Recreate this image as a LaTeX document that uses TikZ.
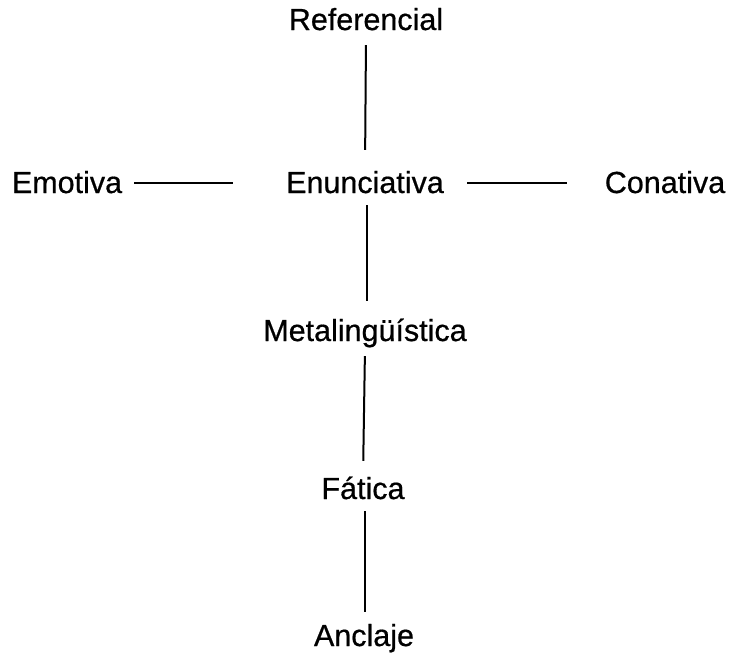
\documentclass[tikz,border=0pt]{standalone}
\usepackage{fontspec}
\setmainfont{Liberation Sans}
\newfontfamily\etiqueta[FakeBold=0.6]{Liberation Sans}
\begin{document}
\begin{tikzpicture}[x=1pt,y=-1pt,
    funcion/.style={inner sep=0pt,text height=22pt,text depth=7pt,font=\etiqueta\fontsize{30.5}{34}\selectfont},
    enlace/.style={line width=2pt}]
\useasboundingbox (0,0) rectangle (734,657);
\node[funcion] (referencial) at (366,22.5) {Referencial}; % arriba
\node[funcion] (enunciativa) at (365,185.5) {Enunciativa}; % centro
\node[funcion] (emotiva) at (67,185.5) {Emotiva};
\node[funcion] (conativa) at (665,185.5) {Conativa};
\node[funcion] (metalinguistica) at (365,333.5) {Metaling\"u\'istica};
\node[funcion] (fatica) at (363,491.5) {F\'atica};
\node[funcion] (anclaje) at (364,638.5) {Anclaje};
\draw[enlace,shorten <=8pt,shorten >=21pt] (referencial.south) -- (enunciativa.north); % vertical
\draw[enlace,shorten <=5pt,shorten >=18pt] ([xshift=2pt]enunciativa.south) -- ([xshift=2pt]metalinguistica.north);
\draw[enlace,shorten <=8pt,shorten >=16pt] (metalinguistica.south) -- (fatica.north);
\draw[enlace,shorten <=5pt,shorten >=12pt] ([xshift=2pt]fatica.south) -- ([xshift=1pt]anclaje.north);
\draw[enlace,shorten <=12pt,shorten >=53pt] ([yshift=3pt]emotiva.east) -- ([yshift=3pt]enunciativa.west); % horizontal
\draw[enlace,shorten <=23pt,shorten >=38pt] ([yshift=3pt]enunciativa.east) -- ([yshift=3pt]conativa.west);
\end{tikzpicture}
\end{document}
